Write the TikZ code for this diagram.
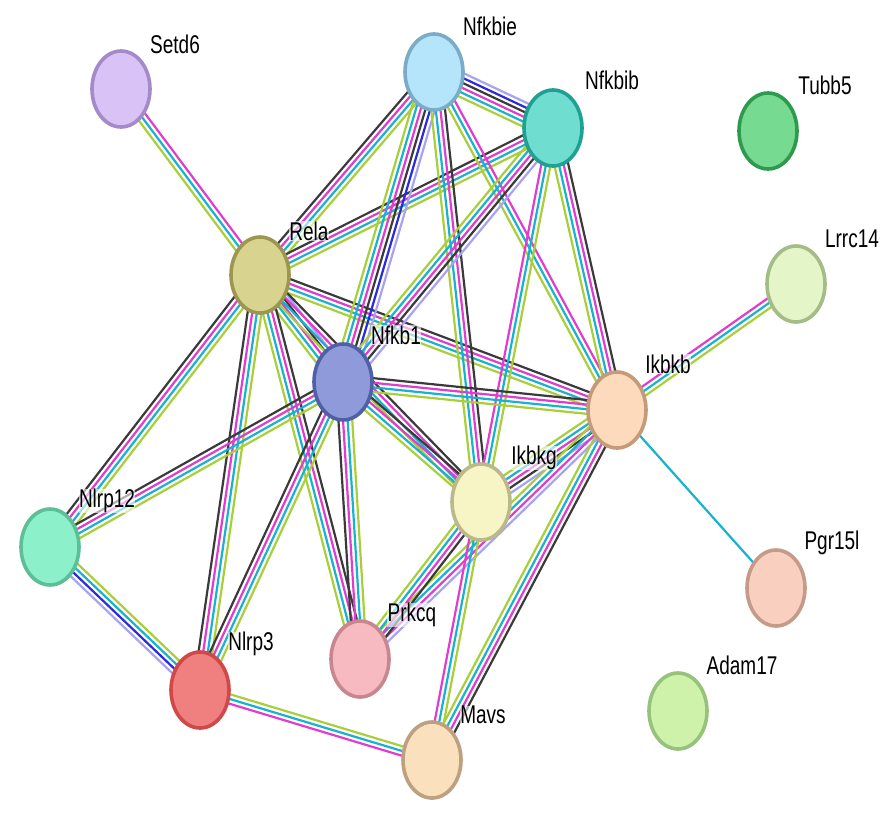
\documentclass[tikz,border=0pt]{standalone}
\usepackage{fontspec}
\setmainfont{Liberation Sans}
\usepackage{graphicx}
\usetikzlibrary{shapes.geometric,calc}
\pgfdeclarelayer{bg}
\pgfsetlayers{bg,main}
\definecolor{cgr}{HTML}{A8CF3A}
\definecolor{ccy}{HTML}{18B2CE}
\definecolor{cmg}{HTML}{E03CD0}
\definecolor{cbk}{HTML}{3A3A3A}
\definecolor{cbl}{HTML}{2A2ADF}
\definecolor{clv}{HTML}{A8A2F2}
\tikzset{
  gr/.style={draw=cgr,line width=2.2pt},
  cy/.style={draw=ccy,line width=2.2pt},
  mg/.style={draw=cmg,line width=2.2pt},
  bk/.style={draw=cbk,line width=2.2pt},
  bl/.style={draw=cbl,line width=2.2pt},
  lv/.style={draw=clv,line width=2.2pt},
  prot/.style={ellipse,line width=3.6pt,minimum width=58pt,minimum height=76pt,inner sep=0pt},
  lab/.style={font=\fontsize{19}{20}\selectfont,fill=white,fill opacity=0.6,text opacity=1,inner sep=0.5pt}
}
\newcommand\bund[3]{%
  \foreach \c [count=\n] in {#3} {\xdef\bn{\n}}%
  \foreach \c [count=\i] in {#3} {%
    \pgfmathsetmacro\off{(\i-(\bn+1)/2)*4.6}%
    \draw[\c] ($(#1)!\off pt!90:(#2)$) -- ($(#2)!\off pt!-90:(#1)$);
  }%
}
\newcommand\lbl[3]{\node[lab] (#1) at (#2) {\scalebox{1}[1.35]{#3}};}
\begin{document}
\begin{tikzpicture}[x=1pt,y=-1pt]
\useasboundingbox (0,0) rectangle (893,817);
% proteins
\node[prot,fill={rgb,255:red,217;green,194;blue,245},draw={rgb,255:red,164;green,138;blue,200}] (Setd6) at (121,89) {};
\node[prot,fill={rgb,255:red,180;green,229;blue,250},draw={rgb,255:red,122;green,172;blue,200}] (Nfkbie) at (434,72) {};
\node[prot,fill={rgb,255:red,111;green,221;blue,208},draw={rgb,255:red,31;green,160;blue,146}] (Nfkbib) at (553,128) {};
\node[prot,fill={rgb,255:red,118;green,218;blue,144},draw={rgb,255:red,46;green,154;blue,78}] (Tubb5) at (768,131) {};
\node[prot,fill={rgb,255:red,228;green,245;blue,200},draw={rgb,255:red,164;green,188;blue,134}] (Lrrc14) at (796,284) {};
\node[prot,fill={rgb,255:red,216;green,212;blue,143},draw={rgb,255:red,156;green,150;blue,81}] (Rela) at (260,275) {};
\node[prot,fill={rgb,255:red,143;green,154;blue,219},draw={rgb,255:red,81;green,96;blue,166}] (Nfkb1) at (343,382) {};
\node[prot,fill={rgb,255:red,253;green,218;blue,187},draw={rgb,255:red,196;green,154;blue,122}] (Ikbkb) at (617,410) {};
\node[prot,fill={rgb,255:red,247;green,245;blue,198},draw={rgb,255:red,187;green,184;blue,138}] (Ikbkg) at (481,502) {};
\node[prot,fill={rgb,255:red,140;green,240;blue,203},draw={rgb,255:red,93;green,190;blue,151}] (Nlrp12) at (50,547) {};
\node[prot,fill={rgb,255:red,249;green,208;blue,192},draw={rgb,255:red,198;green,154;blue,136}] (Pgr15l) at (776,588) {};
\node[prot,fill={rgb,255:red,247;green,186;blue,192},draw={rgb,255:red,200;green,134;blue,143}] (Prkcq) at (360,659) {};
\node[prot,fill={rgb,255:red,240;green,128;blue,128},draw={rgb,255:red,208;green,72;blue,72}] (Nlrp3) at (200,690) {};
\node[prot,fill={rgb,255:red,207;green,242;blue,171},draw={rgb,255:red,151;green,194;blue,124}] (Adam17) at (678,711) {};
\node[prot,fill={rgb,255:red,250;green,224;blue,188},draw={rgb,255:red,189;green,160;blue,128}] (Mavs) at (432,760) {};
% edges
\begin{pgfonlayer}{bg}
\bund{Setd6}{Rela}{gr,cy,mg}
\bund{Rela}{Nfkbie}{gr,cy,mg,bk}
\bund{Rela}{Nfkbib}{gr,cy,mg,bk}
\bund{Rela}{Nfkb1}{gr,cy,mg,bk,lv}
\bund{Rela}{Ikbkb}{gr,cy,mg,bk}
\bund{Rela}{Ikbkg}{gr,cy,mg,bk}
\bund{Rela}{Nlrp12}{bk,mg,cy,gr}
\bund{Rela}{Nlrp3}{bk,mg,cy,gr}
\bund{Rela}{Prkcq}{gr,cy,mg,bk}
\bund{Nfkbie}{Nfkbib}{gr,cy,mg,bk,bl,lv}
\bund{Nfkbie}{Nfkb1}{gr,cy,mg,bk,bl,lv}
\bund{Nfkbie}{Ikbkg}{gr,cy,mg,bk}
\bund{Nfkbie}{Ikbkb}{gr,cy,mg}
\bund{Nfkbib}{Nfkb1}{gr,cy,mg,bk,lv}
\bund{Nfkbib}{Ikbkb}{gr,cy,mg,bk}
\bund{Nfkbib}{Ikbkg}{mg,cy,gr}
\bund{Nfkb1}{Ikbkb}{gr,cy,mg,bk}
\bund{Nfkb1}{Ikbkg}{gr,cy,mg,bk}
\bund{Nfkb1}{Nlrp12}{bk,mg,cy,gr}
\bund{Nfkb1}{Nlrp3}{bk,mg,cy,gr}
\bund{Nfkb1}{Prkcq}{bk,mg,cy,gr}
\bund{Ikbkb}{Lrrc14}{gr,cy,mg}
\bund{Ikbkb}{Pgr15l}{cy}
\bund{Ikbkb}{Ikbkg}{gr,cy,mg,bk,lv}
\bund{Ikbkb}{Prkcq}{gr,cy,mg,lv}
\bund{Ikbkb}{Mavs}{gr,cy,mg,bk}
\bund{Ikbkg}{Prkcq}{gr,cy,mg,bk}
\bund{Ikbkg}{Mavs}{mg,cy,gr}
\bund{Nlrp12}{Nlrp3}{lv,bl,cy,gr}
\bund{Nlrp3}{Mavs}{mg,cy,gr}
\end{pgfonlayer}
% labels
\lbl{lSetd6}{175,44}{Setd6}
\lbl{lNfkbie}{490,26}{Nfkbie}
\lbl{lNfkbib}{612,80}{Nfkbib}
\lbl{lTubb5}{825,85}{Tubb5}
\lbl{lLrrc14}{852,239}{Lrrc14}
\lbl{lRela}{309,231}{Rela}
\lbl{lNfkb1}{396,335}{Nfkb1}
\lbl{lIkbkb}{668,364}{Ikbkb}
\lbl{lIkbkg}{534,458}{Ikbkg}
\lbl{lNlrp12}{107,501}{Nlrp12}
\lbl{lPgr15l}{832,543}{Pgr15l}
\lbl{lNlrp3}{251,644}{Nlrp3}
\lbl{lPrkcq}{412,615}{Prkcq}
\lbl{lAdam17}{742,665}{Adam17}
\lbl{lMavs}{483,715}{Mavs}
\end{tikzpicture}
\end{document}
